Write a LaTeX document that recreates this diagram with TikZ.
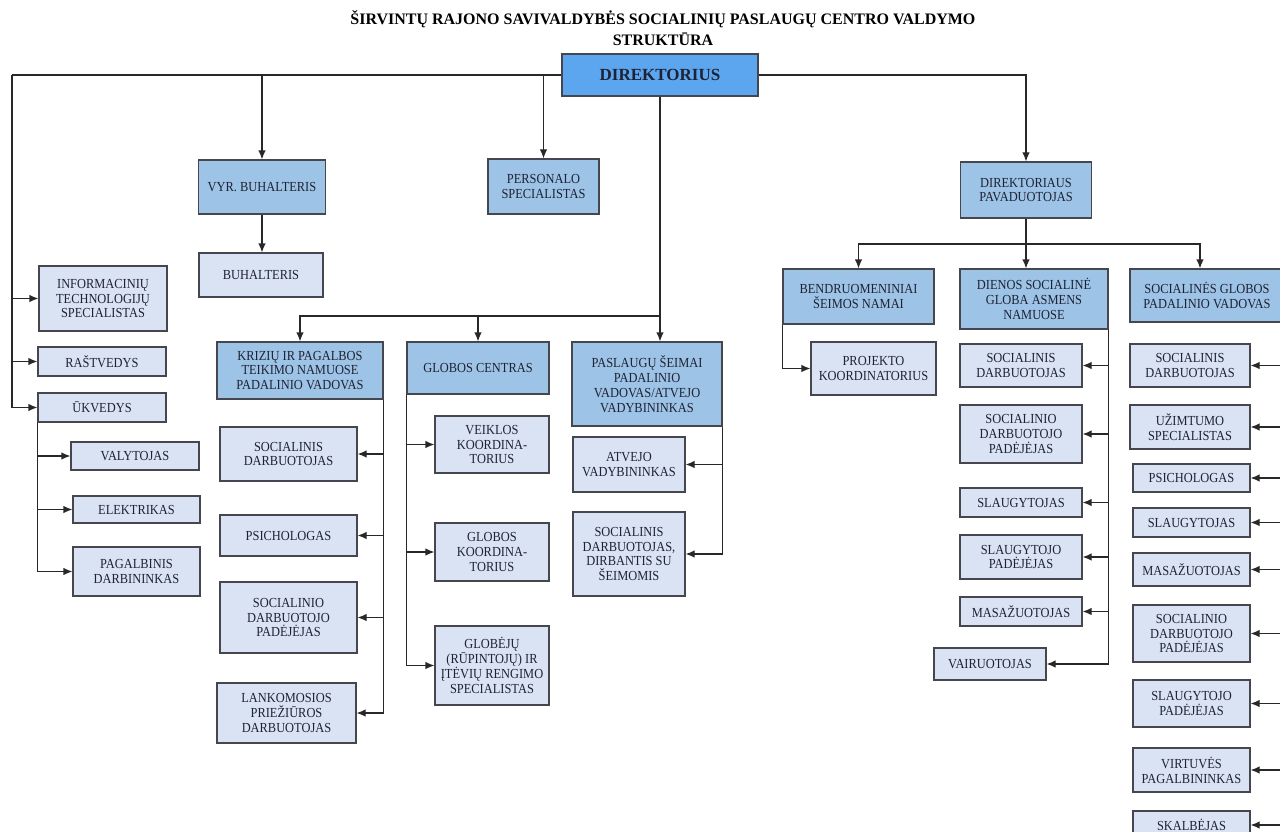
\documentclass[tikz,border=0pt]{standalone}
\usepackage{fontspec}
\setmainfont{Liberation Serif}
\newfontfamily\boxfont{Liberation Serif}[FakeStretch=0.9]
\usetikzlibrary{arrows.meta}

\definecolor{dirblue}{RGB}{92,166,240}
\definecolor{headblue}{RGB}{157,195,230}
\definecolor{staffblue}{RGB}{218,227,243}
\definecolor{boxline}{RGB}{70,70,78}
\definecolor{linkgray}{RGB}{40,40,40}
\definecolor{inkblue}{RGB}{30,34,52}

\begin{document}
\begin{tikzpicture}[x=1pt,y=-1pt,
  box/.style={draw=boxline,line width=1.2pt,align=center,inner sep=0pt,text=inkblue,
    font=\boxfont\fontsize{13.8}{14.8}\selectfont},
  staff/.style={box,fill=staffblue},
  head/.style={box,fill=headblue},
  wh/.style 2 args={minimum width=#1,minimum height=#2},
  link/.style={draw=linkgray,line width=1.2pt},
  arr/.style={link,-{Latex[length=9pt,width=7.5pt]}}]

\useasboundingbox (0,0) rectangle (1280,832);
\fill[white] (0,0) rectangle (1280,832);
\clip (0,0) rectangle (1280,832);

\node[align=center,font=\bfseries\fontsize{16}{21}\selectfont] (title) at (663,28) {ŠIRVINTŲ RAJONO SAVIVALDYBĖS SOCIALINIŲ PASLAUGŲ CENTRO VALDYMO\\STRUKTŪRA};

\node[box,fill=dirblue,wh={196}{42},font=\bfseries\fontsize{17}{20}\selectfont] (direktorius) at (660,75) {DIREKTORIUS};

\node[staff,wh={128}{65}] (infotech) at (103,298.5) {INFORMACINIŲ\\TECHNOLOGIJŲ\\SPECIALISTAS};
\node[staff,wh={128}{29}] (rastvedys) at (102,361.5) {RAŠTVEDYS};
\node[staff,wh={128}{29}] (ukvedys) at (102,407.5) {ŪKVEDYS};
\node[staff,wh={128}{28}] (valytojas) at (135,456) {VALYTOJAS};
\node[staff,wh={127}{27}] (elektrikas) at (136.5,509.5) {ELEKTRIKAS};
\node[staff,wh={127}{49}] (pagalbinis) at (136.5,571.5) {PAGALBINIS\\DARBININKAS};

\node[head,wh={127}{54}] (vyrbuh) at (262,187) {VYR. BUHALTERIS};
\node[staff,wh={124}{44}] (buhalteris) at (261,275) {BUHALTERIS};
\node[head,wh={111}{55}] (personalo) at (543.5,186.5) {PERSONALO\\SPECIALISTAS};

\node[head,wh={166}{57}] (krizes) at (300,370.5) {KRIZIŲ IR PAGALBOS\\TEIKIMO NAMUOSE\\PADALINIO VADOVAS};
\node[staff,wh={137}{54}] (socdarb1) at (288.5,454) {SOCIALINIS\\DARBUOTOJAS};
\node[staff,wh={137}{41}] (psich1) at (288.5,535.5) {PSICHOLOGAS};
\node[staff,wh={137}{71}] (padejejas1) at (288.5,617.5) {SOCIALINIO\\DARBUOTOJO\\PADĖJĖJAS};
\node[staff,wh={139}{60}] (lankomosios) at (286.5,713) {LANKOMOSIOS\\PRIEŽIŪROS\\DARBUOTOJAS};

\node[head,wh={142}{52}] (globoscentras) at (478,368) {GLOBOS CENTRAS};
\node[staff,wh={114}{57}] (veiklos) at (492,444.5) {VEIKLOS\\KOORDINA-\\TORIUS};
\node[staff,wh={114}{58}] (globkoord) at (492,552) {GLOBOS\\KOORDINA-\\TORIUS};
\node[staff,wh={114}{79}] (globeju) at (492,665.5) {GLOBĖJŲ\\(RŪPINTOJŲ) IR\\ĮTĖVIŲ RENGIMO\\SPECIALISTAS};

\node[head,wh={150}{84}] (paslaugos) at (647,384) {PASLAUGŲ ŠEIMAI\\PADALINIO\\VADOVAS/ATVEJO\\VADYBININKAS};
\node[staff,wh={112}{55}] (atvejo) at (629,464.5) {ATVEJO\\VADYBININKAS};
\node[staff,wh={112}{84}] (seimos) at (629,554) {SOCIALINIS\\DARBUOTOJAS,\\DIRBANTIS SU\\ŠEIMOMIS};

\node[head,wh={131}{56}] (pavaduotojas) at (1026,190) {DIREKTORIAUS\\PAVADUOTOJAS};

\node[head,wh={151}{55}] (bendruomenes) at (858.5,296.5) {BENDRUOMENINIAI\\ŠEIMOS NAMAI};
\node[staff,wh={125}{53}] (projekto) at (873.5,368.5) {PROJEKTO\\KOORDINATORIUS};

\node[head,wh={148}{60}] (dienos) at (1034,299) {DIENOS SOCIALINĖ\\GLOBA ASMENS\\NAMUOSE};
\node[staff,wh={122}{43}] (socdarb2) at (1021,365.5) {SOCIALINIS\\DARBUOTOJAS};
\node[staff,wh={122}{58}] (padejejas2) at (1021,434) {SOCIALINIO\\DARBUOTOJO\\PADĖJĖJAS};
\node[staff,wh={122}{29}] (slaug2) at (1021,502.5) {SLAUGYTOJAS};
\node[staff,wh={122}{44}] (slaugpad2) at (1021,557) {SLAUGYTOJO\\PADĖJĖJAS};
\node[staff,wh={122}{29}] (masaz2) at (1021,611.5) {MASAŽUOTOJAS};
\node[staff,wh={112}{32}] (vairuotojas) at (990,664) {VAIRUOTOJAS};

\node[head,wh={154}{53}] (sgvadovas) at (1207,295.5) {SOCIALINĖS GLOBOS\\PADALINIO VADOVAS};
\node[staff,wh={120}{43}] (socdarb3) at (1190,365.5) {SOCIALINIS\\DARBUOTOJAS};
\node[staff,wh={120}{44}] (uzimtumo) at (1190,427) {UŽIMTUMO\\SPECIALISTAS};
\node[staff,wh={117}{28}] (psich3) at (1191.5,478) {PSICHOLOGAS};
\node[staff,wh={117}{29}] (slaug3) at (1191.5,522.5) {SLAUGYTOJAS};
\node[staff,wh={117}{33}] (masaz3) at (1191.5,569.5) {MASAŽUOTOJAS};
\node[staff,wh={117}{57}] (padejejas3) at (1191.5,633.5) {SOCIALINIO\\DARBUOTOJO\\PADĖJĖJAS};
\node[staff,wh={117}{47}] (slaugpad3) at (1191.5,703.5) {SLAUGYTOJO\\PADĖJĖJAS};
\node[staff,wh={117}{44}] (virtuves) at (1191.5,770) {VIRTUVĖS\\PAGALBININKAS};
\node[staff,wh={117}{28}] (skalbejas) at (1191.5,825) {SKALBĖJAS};

\coordinate (leftbus) at (12,75);
\coordinate (midbus) at (660,316);
\coordinate (rightbus) at (1026,244);
\coordinate (rightend) at (1200,244);

\draw[link] (direktorius.west) -- (leftbus);
\draw[arr] (leftbus) |- (infotech.west);
\draw[arr] (leftbus) |- (rastvedys.west);
\draw[arr] (leftbus) |- (ukvedys.west);

\draw[arr] (ukvedys.south west) |- (valytojas.west);
\draw[arr] (ukvedys.south west) |- (elektrikas.west);
\draw[arr] (ukvedys.south west) |- (pagalbinis.west);

\draw[arr] (vyrbuh.north |- direktorius.west) -- (vyrbuh.north);
\draw[arr] (vyrbuh.south) -- (vyrbuh.south |- buhalteris.north);
\draw[arr] (personalo.north |- direktorius.west) -- (personalo.north);

\draw[arr] (direktorius.south) -- (direktorius.south |- paslaugos.north);
\draw[arr] (midbus) -| (krizes.north);
\draw[arr] (midbus) -| (globoscentras.north);

\draw[arr] (krizes.south east) |- (socdarb1.east);
\draw[arr] (krizes.south east) |- (psich1.east);
\draw[arr] (krizes.south east) |- (padejejas1.east);
\draw[arr] (krizes.south east) |- (lankomosios.east);

\draw[arr] (globoscentras.south west) |- (veiklos.west);
\draw[arr] (globoscentras.south west) |- (globkoord.west);
\draw[arr] (globoscentras.south west) |- (globeju.west);

\draw[arr] (paslaugos.south east) |- (atvejo.east);
\draw[arr] (paslaugos.south east) |- (seimos.east);

\draw[arr] (direktorius.east) -| (pavaduotojas.north);
\draw[link] (pavaduotojas.south) -- (rightbus);
\draw[arr] (rightbus) -| (bendruomenes.north);
\draw[arr] (rightbus) -- (rightbus |- dienos.north);
\draw[arr] (rightbus) -- (rightend) -- (rightend |- sgvadovas.north);

\draw[arr] (bendruomenes.south west) |- (projekto.west);

\draw[arr] (dienos.south east) |- (socdarb2.east);
\draw[arr] (dienos.south east) |- (padejejas2.east);
\draw[arr] (dienos.south east) |- (slaug2.east);
\draw[arr] (dienos.south east) |- (slaugpad2.east);
\draw[arr] (dienos.south east) |- (masaz2.east);
\draw[arr] (dienos.south east) |- (vairuotojas.east);

\draw[arr] (sgvadovas.south east) |- (socdarb3.east);
\draw[arr] (sgvadovas.south east) |- (uzimtumo.east);
\draw[arr] (sgvadovas.south east) |- (psich3.east);
\draw[arr] (sgvadovas.south east) |- (slaug3.east);
\draw[arr] (sgvadovas.south east) |- (masaz3.east);
\draw[arr] (sgvadovas.south east) |- (padejejas3.east);
\draw[arr] (sgvadovas.south east) |- (slaugpad3.east);
\draw[arr] (sgvadovas.south east) |- (virtuves.east);
\draw[arr] (sgvadovas.south east) |- (skalbejas.east);

\end{tikzpicture}
\end{document}
